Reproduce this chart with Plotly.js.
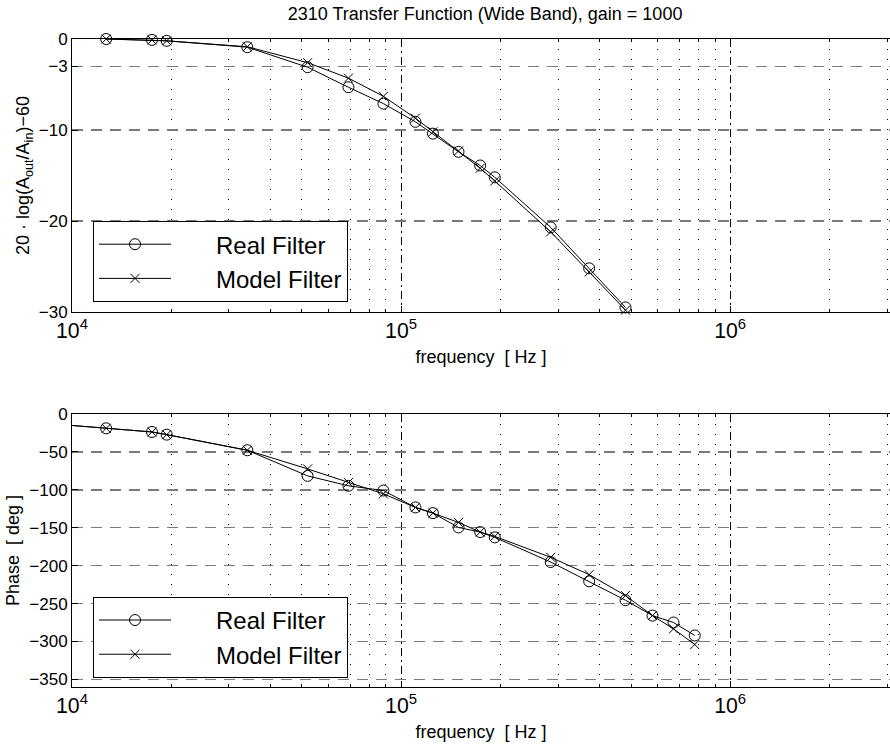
<!DOCTYPE html>
<html>
<head>
<meta charset="utf-8">
<script src="https://cdn.plot.ly/plotly-3.0.1.min.js"></script>
<style>html,body{margin:0;padding:0;background:#fff;}#chart{width:890px;height:746px;}</style>
</head>
<body>
<div id="chart"></div>
<script>
// ---- data ----
const freqMag = [12700, 17500, 19400, 34100, 52000, 69200, 88400, 110600, 125000, 149500, 174000, 192700, 285000, 373000, 481000];
const realMag = [0, -0.1, -0.2, -0.9, -3.1, -5.3, -7.1, -9.1, -10.4, -12.4, -13.9, -15.2, -20.7, -25.2, -29.5];
const modelMag = [0, -0.1, -0.2, -0.85, -2.6, -4.3, -6.3, -8.7, -10.2, -12.3, -14.2, -15.6, -21.2, -25.6, -29.8];

const freqPhase = [9000, 12700, 17500, 19400, 34100, 52000, 69200, 88400, 110600, 125000, 149500, 174000, 192700, 285000, 373000, 481000, 581000, 673000, 781000];
const realPhase = [-13.5, -18.9, -23.7, -27.2, -47.8, -81.6, -94.7, -100.9, -123.2, -130.7, -149.6, -155.7, -162.7, -195.2, -220.6, -245.6, -265.8, -275, -292];
const modelPhase = [-13.5, -18.9, -23.7, -27.2, -47.8, -72.4, -90.4, -105.3, -123.2, -130.7, -143, -155.7, -161.4, -189, -211.8, -239.5, -265.8, -283.3, -304];

const seriesNames = ["Real Filter", "Model Filter"];
const magTicks = [0, -3, -10, -20, -30];
const magTickText = ["0", "\u22123", "\u221210", "\u221220", "\u221230"];
const titleText = "2310 Transfer Function (Wide Band), gain = 1000";
const xTitle = "frequency  [ Hz ]";
const yTitleMag = "20 \u00b7 log(A<sub>out</sub>/A<sub>in</sub>)\u221260";
const yTitlePhase = "Phase  [ deg ]";

const FONT = "Liberation Sans, Arial, Helvetica, sans-serif";
const pad = "\u00a0\u00a0\u00a0\u00a0\u00a0\u00a0";

const circleMarker = {symbol: "circle-open", size: 11, color: "black", line: {width: 1, color: "black"}};
const crossMarker = {symbol: "x-thin-open", size: 9, color: "black", line: {width: 1, color: "black"}};

const traces = [
  {x: freqMag, y: realMag, xaxis: "x", yaxis: "y", name: pad + seriesNames[0], mode: "lines+markers",
   line: {color: "black", width: 1}, marker: circleMarker, cliponaxis: false, legend: "legend"},
  {x: freqMag, y: modelMag, xaxis: "x", yaxis: "y", name: pad + seriesNames[1], mode: "lines+markers",
   line: {color: "black", width: 1}, marker: crossMarker, cliponaxis: false, legend: "legend"},
  {x: freqPhase, y: realPhase, xaxis: "x2", yaxis: "y2", name: pad + seriesNames[0], mode: "lines+markers",
   line: {color: "black", width: 1}, marker: circleMarker, cliponaxis: false, legend: "legend2"},
  {x: freqPhase, y: modelPhase, xaxis: "x2", yaxis: "y2", name: pad + seriesNames[1], mode: "lines+markers",
   line: {color: "black", width: 1}, marker: crossMarker, cliponaxis: false, legend: "legend2"}
];

function xAxis(anchor) {
  return {
    anchor: anchor, domain: [0, 1], type: "log", range: [4, 6.486],
    dtick: 1, tick0: 0, exponentformat: "power",
    ticks: "inside", ticklen: 6, tickcolor: "black", tickwidth: 1,
    showline: true, linecolor: "black", linewidth: 1, mirror: "ticks",
    showgrid: true, gridcolor: "black", gridwidth: 1, griddash: "8px,4px,2px,4px",
    zeroline: false,
    minor: {dtick: "D1", ticks: "inside", ticklen: 3, tickcolor: "black",
            showgrid: true, gridcolor: "black", gridwidth: 1, griddash: "1px,9px"},
    tickfont: {family: FONT, size: 17, color: "black"},
    title: {text: xTitle, font: {family: FONT, size: 18, color: "black"}, standoff: 8}
  };
}
function yAxisBase() {
  return {
    ticks: "inside", ticklen: 6, tickcolor: "black", tickwidth: 1,
    showline: true, linecolor: "black", linewidth: 1, mirror: false,
    showgrid: true, gridcolor: "#7a7a7a", gridwidth: 1.5, griddash: "11px,8px",
    zeroline: false,
    tickfont: {family: FONT, size: 17, color: "black"}
  };
}

const yMag = Object.assign(yAxisBase(), {
  anchor: "x", domain: [0.5787, 1], range: [-30, 0],
  tickmode: "array", tickvals: magTicks, ticktext: magTickText,
  title: {text: yTitleMag, font: {family: FONT, size: 18, color: "black"}, standoff: 4}
});
const yPhase = Object.assign(yAxisBase(), {
  anchor: "x2", domain: [0, 0.4213], range: [-360, 0],
  dtick: 50, tick0: 0,
  title: {text: yTitlePhase, font: {family: FONT, size: 18, color: "black"}, standoff: 4}
});

function legendBox(ytop) {
  return {
    x: 0.0257, y: ytop, xanchor: "left", yanchor: "top",
    bgcolor: "white", bordercolor: "black", borderwidth: 1,
    font: {family: FONT, size: 24, color: "black"},
    itemwidth: 72, tracegroupgap: 0
  };
}

const layout = {
  width: 890, height: 746,
  paper_bgcolor: "white", plot_bgcolor: "white",
  margin: {l: 72, r: 0, t: 39, b: 59, pad: 0},
  font: {family: FONT, color: "black"},
  title: {text: titleText, font: {family: FONT, size: 18, color: "black"},
          xref: "container", x: 0.545, xanchor: "center", yref: "container", y: 0.981, yanchor: "middle"},
  xaxis: xAxis("y"),
  xaxis2: xAxis("y2"),
  yaxis: yMag,
  yaxis2: yPhase,
  showlegend: true,
  legend: legendBox(0.719),
  legend2: legendBox(0.139),
  hovermode: false
};

Plotly.newPlot("chart", traces, layout, {staticPlot: true, displayModeBar: false});
</script>
</body>
</html>
